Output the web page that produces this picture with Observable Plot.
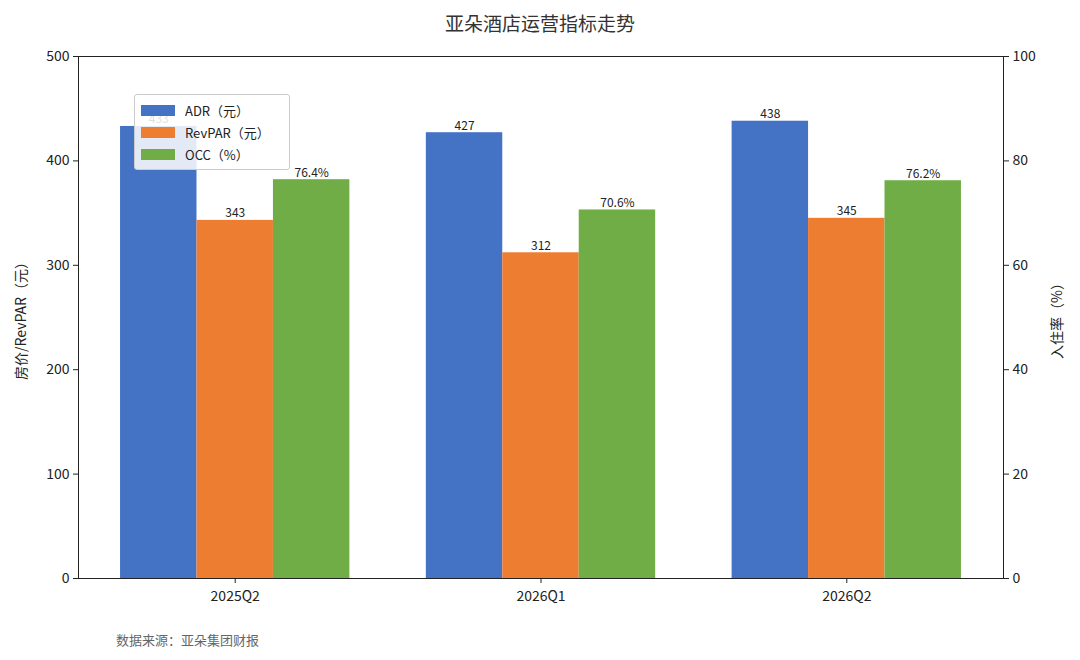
<!DOCTYPE html>
<html><head><meta charset="utf-8">
<script src="https://cdn.jsdelivr.net/npm/d3@7"></script>
<script src="https://cdn.jsdelivr.net/npm/@observablehq/plot@0.6"></script>
<style>
body{margin:0;background:#fff;font-family:"Noto Sans CJK SC","Noto Sans",sans-serif;}
#wrap{position:relative;width:1080px;height:660px;}
#title{height:44px;line-height:46px;text-align:center;font-size:19px;color:#333;}
#legend{position:absolute;left:134px;top:94px;width:154px;padding:4px 0;border:1px solid #ccc;border-radius:3px;background:rgba(255,255,255,0.85);font-size:13px;color:#222;}
#legend div{display:flex;align-items:center;height:22px;padding-left:6px;}
#legend span.sw{display:inline-block;width:34px;height:11px;margin-right:10px;}
#cap{position:absolute;left:116px;top:630px;font-size:13px;color:#666;}
</style></head><body>
<div id="wrap"><div id="title">亚朵酒店运营指标走势</div><div id="chart"></div>
<div id="legend"></div><div id="cap">数据来源：亚朵集团财报</div></div>
<script>
const categories = ["2025Q2","2026Q1","2026Q2"];
const adr = [433,427,438];
const revpar = [343,312,345];
const occ = [76.4,70.6,76.2];
const seriesNames = ["ADR（元）","RevPAR（元）","OCC（%）"];
const colors = ["#4472C4","#ED7D31","#70AD47"];
const w = 0.25;
const rows = [];
categories.forEach((c,i)=>{
  rows.push({i, s:0, x1:i-0.375, x2:i-0.125, y:adr[i], label:String(adr[i])});
  rows.push({i, s:1, x1:i-0.125, x2:i+0.125, y:revpar[i], label:String(revpar[i])});
  rows.push({i, s:2, x1:i+0.125, x2:i+0.375, y:occ[i]*5, label:occ[i].toFixed(1)+"%"});
});
const pad = 2.75*0.05;
const plot = Plot.plot({
  width:1080, height:580, marginTop:12, marginBottom:46, marginLeft:78, marginRight:77,
  style:{fontFamily:"'Noto Sans CJK SC','Noto Sans',sans-serif", fontSize:"14px", color:"#222"},
  x:{domain:[-0.375-pad, 2.375+pad]},
  y:{domain:[0,500]},
  marks:[
    Plot.rect(rows,{x1:"x1",x2:"x2",y1:0,y2:"y",fill:d=>colors[d.s]}),
    Plot.text(rows,{x:d=>(d.x1+d.x2)/2,y:"y",text:"label",dy:-7,fontSize:12,fill:"#222"}),
    Plot.axisX([0,1,2],{tickFormat:d=>categories[d],label:null,fontSize:14,tickSize:5,tickPadding:8}),
    Plot.axisY(d3.range(0,501,100),{anchor:"left",label:"房价/RevPAR（元）",labelAnchor:"center",labelArrow:"none",labelOffset:62,fontSize:14,tickSize:5}),
    Plot.axisY(d3.range(0,501,100),{anchor:"right",tickFormat:d=>d/5,label:"入住率（%）",labelAnchor:"center",labelArrow:"none",labelOffset:58,fontSize:14,tickSize:5}),
    Plot.frame({stroke:"#222"})
  ]
});
document.getElementById("chart").appendChild(plot);
const lg=document.getElementById("legend");
seriesNames.forEach((n,k)=>{const d=document.createElement("div");d.innerHTML=`<span class="sw" style="background:${colors[k]}"></span>${n}`;lg.appendChild(d);});
</script></body></html>
